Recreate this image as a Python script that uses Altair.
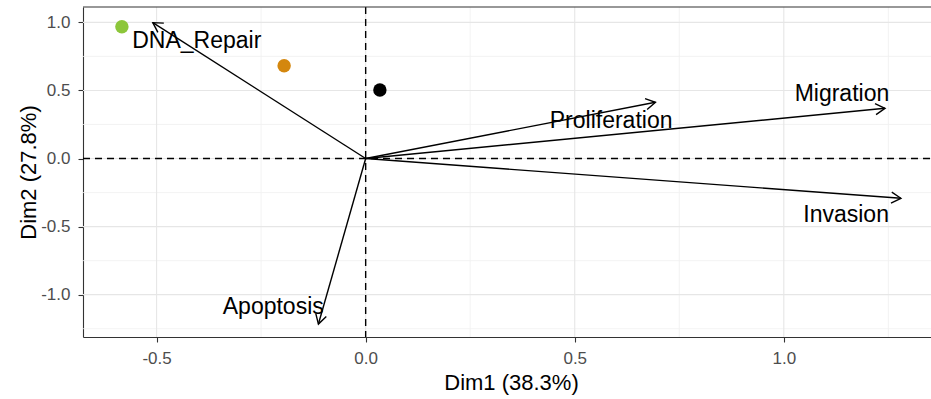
import math
import altair as alt
import pandas as pd

# ---- data ----
var_names = ["DNA_Repair", "Apoptosis", "Proliferation", "Migration", "Invasion"]
var_x = [-0.509, -0.113, 0.693, 1.242, 1.280]
var_y = [0.998, -1.216, 0.413, 0.369, -0.292]
label_x = [-0.404, -0.221, 0.587, 1.139, 1.149]
label_y = [0.865, -1.093, 0.279, 0.472, -0.416]

ind_names = ["s1", "s2", "s3"]
ind_x = [-0.583, -0.195, 0.034]
ind_y = [0.968, 0.682, 0.503]
ind_colors = ["#8CC63A", "#D4870E", "#000000"]

x_major = [-0.5, 0.0, 0.5, 1.0]
x_minor = [-0.25, 0.25, 0.75, 1.25]
y_major = [-1.0, -0.5, 0.0, 0.5, 1.0]
y_minor = [-1.25, -0.75, -0.25, 0.25, 0.75]

x_domain = [-0.676, 1.352]
y_domain = [-1.311, 1.113]
x_title = "Dim1 (38.3%)"
y_title = "Dim2 (27.8%)"

# ---- layout ----
W, H = 848, 330
FONT = "Liberation Sans, Arial, Helvetica, sans-serif"
kx = W / (x_domain[1] - x_domain[0])
ky = H / (y_domain[1] - y_domain[0])

vars_df = pd.DataFrame({"name": var_names, "x": var_x, "y": var_y,
                        "lx": label_x, "ly": label_y})
vars_df["x0"] = 0.0
vars_df["y0"] = 0.0
vars_df["ang"] = [
    (math.degrees(math.atan2(-yy * ky, xx * kx)) + 360) % 360
    for xx, yy in zip(var_x, var_y)
]
ind_df = pd.DataFrame({"name": ind_names, "x": ind_x, "y": ind_y})

neg_fmt = "datum.value < 0 ? '-' + format(-datum.value, '.1f') : format(datum.value, '.1f')"

xs = alt.Scale(domain=x_domain, nice=False, zero=False)
ys = alt.Scale(domain=y_domain, nice=False, zero=False)

X = alt.X("x:Q", scale=xs, axis=alt.Axis(values=x_major, labelExpr=neg_fmt, title=x_title,
                                          titleY=35, titleBaseline="top", titleX=428))
Y = alt.Y("y:Q", scale=ys, axis=alt.Axis(values=y_major, labelExpr=neg_fmt, title=y_title,
                                          titleX=-55, titleBaseline="middle"))

grid_minor_x = alt.Chart(pd.DataFrame({"x": x_minor})).mark_rule(
    color="#F0F0F0", strokeWidth=0.8).encode(x=X, y=alt.value(0), y2=alt.value(H))
grid_major_x = alt.Chart(pd.DataFrame({"x": x_major})).mark_rule(
    color="#E6E6E6", strokeWidth=1.1).encode(x=X, y=alt.value(0), y2=alt.value(H))
grid_minor_y = alt.Chart(pd.DataFrame({"y": y_minor})).mark_rule(
    color="#F0F0F0", strokeWidth=0.8).encode(y=Y, x=alt.value(0), x2=alt.value(W))
grid_major_y = alt.Chart(pd.DataFrame({"y": y_major})).mark_rule(
    color="#E6E6E6", strokeWidth=1.1).encode(y=Y, x=alt.value(0), x2=alt.value(W))

zero_v = alt.Chart(pd.DataFrame({"x": [0.0]})).mark_rule(
    color="black", strokeWidth=1.4, strokeDash=[7, 5]).encode(x=X, y=alt.value(0), y2=alt.value(H))
zero_h = alt.Chart(pd.DataFrame({"y": [0.0]})).mark_rule(
    color="black", strokeWidth=1.4, strokeDash=[7, 5]).encode(y=Y, x=alt.value(0), x2=alt.value(W))

arrows = alt.Chart(vars_df).mark_rule(color="black", strokeWidth=1.4).encode(
    x=alt.X("x0:Q", scale=xs), y=alt.Y("y0:Q", scale=ys),
    x2="x:Q", y2="y:Q")

heads = alt.Chart(vars_df).mark_point(
    shape="M -0.866 -0.5 L 0 0 L -0.866 0.5", filled=False, color="black",
    strokeWidth=1.4, size=484, opacity=1).encode(
    x=X, y=Y, angle=alt.Angle("ang:Q", scale=None))

points = alt.Chart(ind_df).mark_circle(size=180, opacity=1).encode(
    x=X, y=Y,
    color=alt.Color("name:N", scale=alt.Scale(domain=ind_names, range=ind_colors), legend=None))

labels = alt.Chart(vars_df).mark_text(
    font=FONT, fontSize=23, color="black", align="center", baseline="middle").encode(
    x=alt.X("lx:Q", scale=xs), y=alt.Y("ly:Q", scale=ys), text="name:N")

top_border = alt.Chart(pd.DataFrame({"a": [0]})).mark_rule(
    color="#333333", strokeWidth=1.1).encode(x=alt.value(0), x2=alt.value(W), y=alt.value(0))

chart = alt.layer(
    grid_minor_x, grid_minor_y, grid_major_x, grid_major_y,
    zero_v, zero_h, arrows, heads, points, labels, top_border
).properties(
    width=W, height=H,
    autosize=alt.AutoSizeParams(type="none"),
    padding={"left": 83, "top": 7, "right": 0, "bottom": 62},
    background="white",
).configure_view(stroke=None).configure_axis(
    grid=False,
    domainColor="#333333", domainWidth=1.1,
    tickColor="#333333", tickWidth=1.1, tickSize=5,
    labelFont=FONT, labelFontSize=17, labelColor="#4D4D4D", labelPadding=8,
    titleFont=FONT, titleFontSize=22, titleFontWeight="normal", titleColor="black",
)

chart.save("out.html", embed_options={"renderer": "svg", "actions": False})
